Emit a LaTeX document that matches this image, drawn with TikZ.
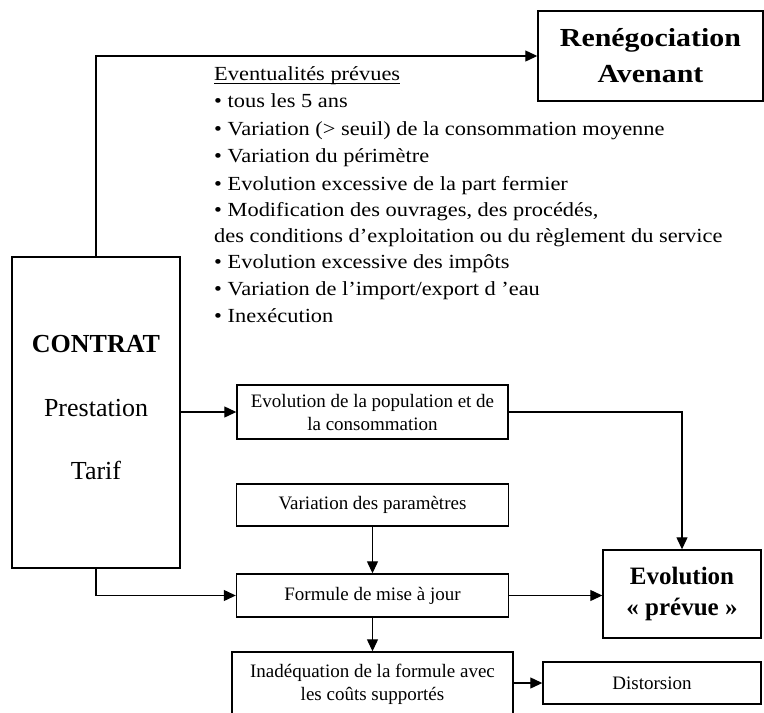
\documentclass[tikz,border=0pt]{standalone}
\usepackage{fontspec}
\setmainfont{Liberation Serif}
\newfontfamily\stretchfont{Liberation Serif}[FakeStretch=1.12]
\newfontfamily\wideboldfont{Liberation Serif}[FakeStretch=1.15]
\usetikzlibrary{arrows.meta}
\newcommand\ulx[1]{\setbox0\hbox{#1}\rlap{\rule[-3.5pt]{\wd0}{0.9pt}}\box0}
\begin{document}
\begin{tikzpicture}[x=1pt,y=-1pt,
  box/.style={draw, line width=1.4pt, inner sep=0pt, align=center},
  smalltxt/.style={font=\fontsize{19}{23}\selectfont},
  listtxt/.style={anchor=base west, inner sep=0pt, font=\stretchfont\fontsize{20}{24}\selectfont},
  bigtxt/.style={anchor=base, inner sep=0pt, font=\fontsize{26}{30}\selectfont},
  arr/.style={line width=1.2pt, -{Triangle[length=12pt,width=11pt]}},
  ln/.style={line width=1.2pt}]
\useasboundingbox (0,0) rectangle (764,713);

% boxes
\node[box, minimum width=225pt, minimum height=90pt,
      font=\wideboldfont\bfseries\fontsize{26}{36}\selectfont] (reneg) at (650.5,56) {Renégociation\\Avenant};
\node[box, minimum width=168pt, minimum height=311pt] (contrat) at (96,412.5) {};
\node[bigtxt, font=\bfseries\fontsize{26}{30}\selectfont] (ct1) at (96,352) {CONTRAT};
\node[bigtxt] (ct2) at (96,416) {Prestation};
\node[bigtxt] (ct3) at (96,479) {Tarif};

\node[box, smalltxt, minimum width=271pt, minimum height=54pt] (pop) at (372.5,412) {Evolution de la population et de\\la consommation};
\node[box, smalltxt, minimum width=272pt, minimum height=42pt] (var) at (372.5,505) {Variation des paramètres};
\node[box, smalltxt, minimum width=272pt, minimum height=43pt] (form) at (372.5,595.5) {Formule de mise à jour};
\node[box, smalltxt, minimum width=281pt, minimum height=64pt] (inad) at (372.5,684) {Inadéquation de la formule avec\\les coûts supportés};
\node[box, smalltxt, minimum width=218pt, minimum height=42pt] (dist) at (652,683) {Distorsion};
\node[box, minimum width=158pt, minimum height=88pt,
      font=\bfseries\fontsize{25}{31}\selectfont] (evol) at (682,594) {Evolution\\« prévue »};

% list
\node[listtxt] (l1) at (214,80) {\ulx{Eventualités prévues}};
\node[listtxt] (l2) at (214,107) {• tous les 5 ans};
\node[listtxt] (l3) at (214,135) {• Variation (> seuil) de la consommation moyenne};
\node[listtxt] (l4) at (214,162) {• Variation du périmètre};
\node[listtxt] (l5) at (214,190) {• Evolution excessive de la part fermier};
\node[listtxt] (l6) at (214,216) {• Modification des ouvrages, des procédés,};
\node[listtxt] (l7) at (214,242) {des conditions d’exploitation ou du règlement du service};
\node[listtxt] (l8) at (214,268) {• Evolution excessive des impôts};
\node[listtxt] (l9) at (214,295) {• Variation de l’import/export d ’eau};
\node[listtxt] (l10) at (214,322) {• Inexécution};

% connectors
\draw[arr] (contrat.north) |- (reneg.west);
\draw[arr] (contrat.east |- pop.west) -- (pop.west);
\draw[arr] (pop.east) -| (evol.north);
\draw[arr] (var.south) -- (form.north);
\draw[arr] (contrat.south) |- (form.west);
\draw[arr] (form.east) -- (form.east -| evol.west);
\draw[arr] (form.south) -- (inad.north);
\draw[arr] (inad.east |- dist.west) -- (dist.west);
\end{tikzpicture}
\end{document}
